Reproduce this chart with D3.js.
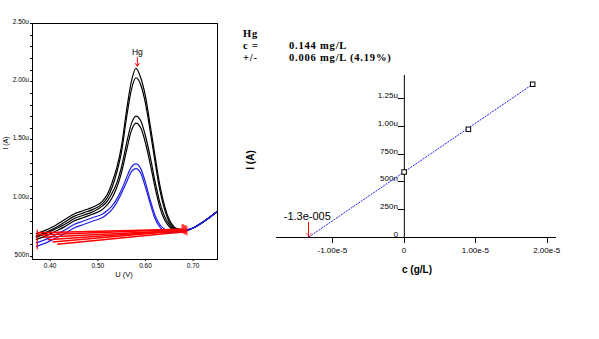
<!DOCTYPE html>
<html><head><meta charset="utf-8">
<script src="https://cdn.jsdelivr.net/npm/d3@7"></script>
<style>html,body{margin:0;padding:0;background:#fff;}svg{display:block;}</style>
</head><body><svg id="c" width="599" height="339"></svg>
<script>
// ---------- Left chart: voltammograms ----------
const potentials = [0.37,0.39,0.41,0.43,0.45,0.47,0.49,0.51,0.52,0.53,0.54,0.55,0.56,0.57,0.58,0.59,0.60,0.61,0.62,0.63,0.64,0.65,0.66,0.67,0.68,0.70,0.72,0.75];
const black1 = [0.69,0.72,0.76,0.81,0.86,0.89,0.92,0.97,1.03,1.13,1.26,1.45,1.74,1.99,2.11,2.03,1.87,1.62,1.36,1.11,0.93,0.81,0.75,0.73,0.72,0.74,0.79,0.88];
const black2 = [0.67,0.70,0.74,0.79,0.84,0.87,0.90,0.95,1.00,1.09,1.22,1.40,1.68,1.92,2.03,1.97,1.81,1.57,1.31,1.07,0.90,0.79,0.74,0.72,0.72,0.74,0.79,0.88];
const black3 = [0.66,0.69,0.73,0.77,0.82,0.85,0.88,0.93,0.97,1.04,1.13,1.27,1.46,1.63,1.70,1.66,1.53,1.35,1.14,0.96,0.84,0.77,0.73,0.72,0.72,0.74,0.79,0.88];
const black4 = [0.64,0.67,0.71,0.75,0.80,0.83,0.86,0.90,0.94,1.00,1.09,1.22,1.40,1.57,1.64,1.60,1.47,1.29,1.09,0.92,0.81,0.75,0.72,0.71,0.71,0.74,0.79,0.88];
const blue1  = [0.61,0.64,0.68,0.72,0.77,0.80,0.83,0.86,0.89,0.93,0.99,1.07,1.17,1.26,1.29,1.25,1.13,0.98,0.85,0.77,0.73,0.71,0.71,0.71,0.72,0.74,0.79,0.88];
const blue2  = [0.58,0.61,0.65,0.69,0.74,0.77,0.80,0.83,0.86,0.90,0.96,1.04,1.13,1.22,1.25,1.21,1.09,0.95,0.82,0.75,0.71,0.70,0.70,0.70,0.71,0.74,0.79,0.88];
const baseStartV = [0.373,0.375,0.385,0.395,0.405,0.415];
const baseStartI = [0.70,0.68,0.66,0.64,0.62,0.60];
const baseEndV   = [0.677,0.679,0.681,0.683,0.685,0.687];
const baseEndI   = [0.73,0.73,0.72,0.72,0.72,0.71];
const leftYTicks  = [0.5,1.0,1.5,2.0,2.5];
const leftYLabels = ["500n","1.00u","1.50u","2.00u","2.50u"];
const leftXTicks  = [0.40,0.50,0.60,0.70];
const leftXLabels = ["0.40","0.50","0.60","0.70"];
const peakV = 0.583, peakI = 2.12, peakName = "Hg";

// ---------- Right chart: standard addition ----------
const addConc = [0, 9.0e-6, 1.8e-5];
const addCurrent = [0.587e-6, 0.971e-6, 1.376e-6];
const rightXTicks = [-1e-5, 0, 1e-5, 2e-5];
const rightXLabels = ["-1.00e-5","0","1.00e-5","2.00e-5"];
const rightYTicks = [0, 0.25e-6, 0.5e-6, 0.75e-6, 1.0e-6, 1.25e-6];
const rightYLabels = ["0","250n","500n","750n","1.00u","1.25u"];
const resultLines = [["Hg",""],["c =","0.144 mg/L"],["+/-","0.006 mg/L (4.19%)"]];
const interceptLabel = "-1.3e-005";

const svg = d3.select("#c");
const sans = "Liberation Sans, Arial, sans-serif";

// Left scales
const lx = d3.scaleLinear().domain([0.362,0.750]).range([32,217]);
const ly = d3.scaleLinear().domain([0.474,2.5]).range([259,23]);
const L = svg.append("g");
L.append("rect").attr("x",lx.range()[0]).attr("y",ly.range()[1])
 .attr("width",lx.range()[1]-lx.range()[0]).attr("height",ly.range()[0]-ly.range()[1])
 .attr("fill","none").attr("stroke","#000").attr("stroke-width",1).attr("shape-rendering","crispEdges");
L.selectAll(".mt").data(d3.range(5,26).map(d=>d/10)).enter().append("line")
 .attr("x1",lx.range()[0]-2).attr("x2",lx.range()[0]).attr("y1",d=>Math.round(ly(d))+0.5).attr("y2",d=>Math.round(ly(d))+0.5)
 .attr("stroke","#000");
L.selectAll(".yl").data(leftYTicks).enter().append("text")
 .attr("x",29).attr("y",d=>ly(d)+1).attr("text-anchor","end")
 .attr("font-family",sans).attr("font-size",6.5).text((d,i)=>leftYLabels[i]);
L.selectAll(".xt").data(leftXTicks).enter().append("line")
 .attr("x1",d=>lx(d)).attr("x2",d=>lx(d)).attr("y1",259).attr("y2",261).attr("stroke","#000");
L.selectAll(".xl").data(leftXTicks).enter().append("text")
 .attr("x",d=>lx(d)).attr("y",268).attr("text-anchor","middle")
 .attr("font-family",sans).attr("font-size",6.5).text((d,i)=>leftXLabels[i]);
L.append("text").attr("x",124).attr("y",277).attr("text-anchor","middle")
 .attr("font-family",sans).attr("font-size",7.5).text("U (V)");
L.append("text").attr("transform","translate(8,143) rotate(-90)").attr("text-anchor","middle")
 .attr("font-family",sans).attr("font-size",7).text("I (A)");

const line = d3.line().x((d,i)=>lx(potentials[i])).y(d=>ly(d)).curve(d3.curveMonotoneX);
const series = [[black1,"#000"],[black2,"#000"],[black3,"#000"],[black4,"#000"],[blue1,"#1f1fe6"],[blue2,"#1f1fe6"]];
series.forEach(([s,c])=>{
  L.append("path").attr("d",line(s)).attr("fill","none").attr("stroke",c).attr("stroke-width",1.2);
});
// baselines
baseStartV.forEach((v,i)=>{
  L.append("line").attr("x1",lx(v)).attr("y1",ly(baseStartI[i])).attr("x2",lx(baseEndV[i])).attr("y2",ly(baseEndI[i]))
   .attr("stroke","#f00").attr("stroke-width",1.5);
  L.append("line").attr("x1",lx(baseEndV[i])).attr("x2",lx(baseEndV[i])).attr("y1",ly(baseEndI[i])-5).attr("y2",ly(baseEndI[i])+4)
   .attr("stroke","#f00").attr("stroke-width",1);
});
L.append("line").attr("x1",lx(baseStartV[0])).attr("x2",lx(baseStartV[0]))
 .attr("y1",ly(d3.max(baseStartI))-3).attr("y2",ly(d3.min(baseStartI))+5).attr("stroke","#f00").attr("stroke-width",1.2);
// peak marker
L.append("line").attr("x1",lx(peakV)).attr("x2",lx(peakV)).attr("y1",ly(peakI)-10).attr("y2",ly(peakI)-1)
 .attr("stroke","#f00").attr("stroke-width",1);
L.append("path").attr("d",`M${lx(peakV)-2},${ly(peakI)-4}L${lx(peakV)},${ly(peakI)-1}L${lx(peakV)+2},${ly(peakI)-4}`)
 .attr("fill","none").attr("stroke","#f00");
L.append("text").attr("x",lx(peakV)).attr("y",ly(peakI)-12).attr("text-anchor","middle")
 .attr("font-family",sans).attr("font-size",8.5).text(peakName);

// Right chart
const rx = d3.scaleLinear().domain([-1.79e-5,2.13e-5]).range([276,556]);
const ry = d3.scaleLinear().domain([0,1.457e-6]).range([237,75]);
const R = svg.append("g");
R.append("line").attr("x1",rx.range()[0]).attr("x2",rx.range()[1]).attr("y1",ry(0)+0.5).attr("y2",ry(0)+0.5).attr("stroke","#000");
R.append("line").attr("x1",rx(0)+0.5).attr("x2",rx(0)+0.5).attr("y1",ry.range()[1]).attr("y2",ry(0)).attr("stroke","#000");
R.selectAll(".xt").data(rightXTicks).enter().append("line")
 .attr("x1",d=>Math.round(rx(d))+0.5).attr("x2",d=>Math.round(rx(d))+0.5).attr("y1",ry(0)).attr("y2",ry(0)+6).attr("stroke","#000");
R.selectAll(".xl").data(rightXTicks).enter().append("text")
 .attr("x",d=>rx(d)).attr("y",253).attr("text-anchor","middle")
 .attr("font-family",sans).attr("font-size",8).text((d,i)=>rightXLabels[i]);
R.selectAll(".yt").data(rightYTicks).enter().append("line")
 .attr("x1",rx(0)-6).attr("x2",rx(0)).attr("y1",d=>Math.round(ry(d))+0.5).attr("y2",d=>Math.round(ry(d))+0.5).attr("stroke","#000");
R.selectAll(".yl").data(rightYTicks).enter().append("text")
 .attr("x",rx(0)-6).attr("y",d=>ry(d)).attr("text-anchor","end")
 .attr("font-family",sans).attr("font-size",8).text((d,i)=>rightYLabels[i]);
R.append("text").attr("x",417).attr("y",273).attr("text-anchor","middle")
 .attr("font-family",sans).attr("font-weight","bold").attr("font-size",10).text("c (g/L)");
R.append("text").attr("transform","translate(254,160) rotate(-90)").attr("text-anchor","middle")
 .attr("font-family",sans).attr("font-weight","bold").attr("font-size",10).text("I (A)");
// regression
const mx = d3.mean(addConc), my = d3.mean(addCurrent);
const slope = d3.sum(addConc.map((x,i)=>(x-mx)*(addCurrent[i]-my)))/d3.sum(addConc.map(x=>(x-mx)*(x-mx)));
const icpt = my - slope*mx;
const xint = -icpt/slope;
R.append("line").attr("x1",rx(xint)).attr("y1",ry(0)).attr("x2",rx(d3.max(addConc))).attr("y2",ry(slope*d3.max(addConc)+icpt))
 .attr("stroke","#1f1fe6").attr("stroke-width",1).attr("stroke-dasharray","2,1");
R.selectAll(".pt").data(addConc).enter().append("rect")
 .attr("x",d=>rx(d)-2).attr("y",(d,i)=>ry(addCurrent[i])-2).attr("width",4.5).attr("height",4.5)
 .attr("fill","#fff").attr("stroke","#000").attr("stroke-width",1);
R.append("line").attr("x1",Math.round(rx(xint))-0.5).attr("x2",Math.round(rx(xint))-0.5).attr("y1",ry(0)-15).attr("y2",ry(0))
 .attr("stroke","#f00").attr("stroke-width",1);
R.append("path").attr("d",`M${rx(xint)-3},${ry(0)-4}L${rx(xint)},${ry(0)-1}L${rx(xint)+3},${ry(0)-4}`)
 .attr("fill","none").attr("stroke","#f00").attr("stroke-dasharray","1,1");
R.append("text").attr("x",rx(xint)-25).attr("y",ry(0)-17).attr("font-family",sans).attr("font-size",11).text(interceptLabel);

// results text
const T = svg.append("g").attr("font-family","Liberation Serif, Times New Roman, serif").attr("font-size",10.5)
 .attr("font-weight","bold").attr("letter-spacing",0.8);
resultLines.forEach((r,i)=>{
  T.append("text").attr("x",243).attr("y",37+i*12).text(r[0]);
  if(r[1]) T.append("text").attr("x",289).attr("y",37+i*12).text(r[1]);
});
</script></body></html>
